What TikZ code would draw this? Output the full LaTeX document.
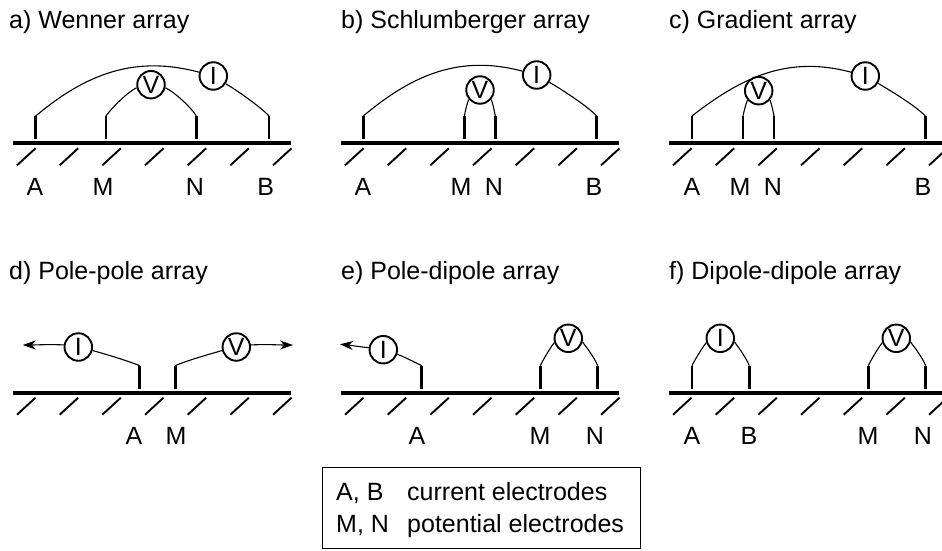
\documentclass[tikz,border=0pt]{standalone}
\usepackage{fontspec}
\setmainfont{Liberation Sans}
\usetikzlibrary{arrows.meta}
\tikzset{
    meter/.style={circle,draw,fill=white,line width=1.9pt,minimum size=27.5,inner sep=0pt},
    elec/.style={line width=2.8pt},
    wire/.style={line width=1.1pt},
    shortwire/.style={wire,looseness=0.6},
    farwire/.style={wire,-{Stealth[length=13pt,width=9pt,inset=4pt]}},
    soil/.style={line width=3.8pt},
    hatching/.style={line width=1.9pt},
    lbl/.style={inner sep=0pt},
    title/.style={inner sep=0pt,anchor=base west},
}
\newcommand{\soilline}[2]{
    \draw [soil] (#1,#2) -- ++(278,0);
    \foreach \i in {0,...,6}
        \draw [hatching] (#1+4+42.67*\i,#2-22) -- ++(18.5,17);
}
\newcommand{\electrode}[3]{
    \coordinate (#1) at (#2,#3);
    \draw [elec] (#1) -- ++(0,-23);
}
\begin{document}
\begin{tikzpicture}[x=1pt,y=1pt,font=\fontsize{25}{30}\selectfont]
    \useasboundingbox (0,0) rectangle (942,550);

    % top row
    \node [title] (ta) at (9,521) {a) Wenner array};
    \node [title] (tb) at (341,521) {b) Schlumberger array};
    \node [title] (tc) at (669,521) {c) Gradient array};
    \soilline{13}{406.7}
    \soilline{341}{406.7}
    \soilline{669}{406.7}

    % a
    \electrode{aA}{35.7}{434}
    \electrode{aM}{106}{434}
    \electrode{aN}{196.3}{434}
    \electrode{aB}{269}{434}
    \node [meter] (aV) at (151,465.3) {V};
    \node [meter] (aI) at (213.3,474) {I};
    \draw [wire] (aA) to[out=40,in=165] (aI);
    \draw [shortwire] (aI.-32) to[out=-30,in=133] (aB);
    \draw [shortwire] (aM) to[out=55,in=205] (aV.192);
    \draw [shortwire] (aV.-12) to[out=-25,in=120] (aN);
    \node [lbl] (laA) at (35,363.3) {A};
    \node [lbl] (laM) at (103,363.3) {M};
    \node [lbl] (laN) at (195,363.3) {N};
    \node [lbl] (laB) at (265.7,363.3) {B};

    % b
    \electrode{bA}{363.3}{434}
    \electrode{bM}{464.3}{434}
    \electrode{bN}{495.3}{434}
    \electrode{bB}{596.7}{434}
    \node [meter] (bV) at (480,460) {V};
    \node [meter] (bI) at (536.7,475) {I};
    \draw [wire] (bA) to[out=40,in=165] (bI);
    \draw [shortwire] (bI.-30) to[out=-30,in=133] (bB);
    \draw [shortwire] (bM) to[out=78,in=245] (bV.220);
    \draw [shortwire] (bV.-40) to[out=-65,in=102] (bN);
    \node [lbl] (lbA) at (363,363.3) {A};
    \node [lbl] (lbM) at (461,363.3) {M};
    \node [lbl] (lbN) at (494,363.3) {N};
    \node [lbl] (lbB) at (594,363.3) {B};

    % c
    \electrode{cA}{692}{434}
    \electrode{cM}{743}{434}
    \electrode{cN}{774}{434}
    \electrode{cB}{925.3}{434}
    \node [meter] (cV) at (758.7,459.3) {V};
    \node [meter] (cI) at (865.3,474) {I};
    \draw [wire] (cA) to[out=38,in=165] (cI);
    \draw [shortwire] (cI.-30) to[out=-30,in=133] (cB);
    \draw [shortwire] (cM) to[out=78,in=245] (cV.220);
    \draw [shortwire] (cV.-40) to[out=-65,in=102] (cN);
    \node [lbl] (lcA) at (692,363.3) {A};
    \node [lbl] (lcM) at (740,363.3) {M};
    \node [lbl] (lcN) at (773,363.3) {N};
    \node [lbl] (lcB) at (923,363.3) {B};

    % bottom row
    \node [title] (td) at (9,270.7) {d) Pole-pole array};
    \node [title] (te) at (341,270.7) {e) Pole-dipole array};
    \node [title] (tf) at (669,270.7) {f) Dipole-dipole array};
    \soilline{13}{157.3}
    \soilline{341}{157.3}
    \soilline{669}{157.3}

    % d
    \electrode{dA}{139.7}{184.3}
    \electrode{dM}{175.3}{184.3}
    \node [meter] (dI) at (78.3,203) {I};
    \node [meter] (dV) at (236.3,203) {V};
    \coordinate (dL) at (22.7,205);
    \coordinate (dR) at (293,205);
    \draw [farwire] (dI.172) to[out=177,in=0] (dL);
    \draw [farwire] (dV.8) to[out=3,in=180] (dR);
    \draw [shortwire] (dI.-14) to[out=-15,in=157] (dA);
    \draw [shortwire] (dV.194) to[out=196,in=25] (dM);
    \node [lbl] (ldA) at (134,114) {A};
    \node [lbl] (ldM) at (176,114) {M};

    % e
    \electrode{eA}{421.7}{184.3}
    \electrode{eM}{540.3}{184.3}
    \electrode{eN}{597.7}{184.3}
    \node [meter] (eI) at (383.3,200.3) {I};
    \node [meter] (eV) at (568.3,211.7) {V};
    \coordinate (eL) at (340,205.7);
    \draw [farwire] (eI.172) to[out=175,in=-5] (eL);
    \draw [shortwire] (eI.-18) to[out=-20,in=153] (eA);
    \draw [shortwire] (eM) to[out=65,in=232] (eV.197);
    \draw [shortwire] (eV.-15) to[out=-50,in=110] (eN);
    \node [lbl] (leA) at (417,114) {A};
    \node [lbl] (leM) at (540,114) {M};
    \node [lbl] (leN) at (595,114) {N};

    % f
    \electrode{fA}{692}{184.3}
    \electrode{fB}{749.3}{184.3}
    \electrode{fM}{868.3}{184.3}
    \electrode{fN}{925.7}{184.3}
    \node [meter] (fI) at (720.3,211.7) {I};
    \node [meter] (fV) at (896.3,211.7) {V};
    \draw [shortwire] (fA) to[out=65,in=232] (fI.197);
    \draw [shortwire] (fI.-15) to[out=-50,in=110] (fB);
    \draw [shortwire] (fM) to[out=65,in=232] (fV.197);
    \draw [shortwire] (fV.-15) to[out=-50,in=110] (fN);
    \node [lbl] (lfA) at (692,114) {A};
    \node [lbl] (lfB) at (749,114) {B};
    \node [lbl] (lfM) at (868,114) {M};
    \node [lbl] (lfN) at (923,114) {N};

    % key
    \node [draw,line width=1pt,minimum width=318,minimum height=81,inner sep=0pt] (key) at (481,42.5) {};
    \node [title] (k1) at (336,50) {A, B};
    \node [title] (k2) at (407,50) {current electrodes};
    \node [title] (k3) at (336,18) {M, N};
    \node [title] (k4) at (407,18) {potential electrodes};
\end{tikzpicture}
\end{document}
